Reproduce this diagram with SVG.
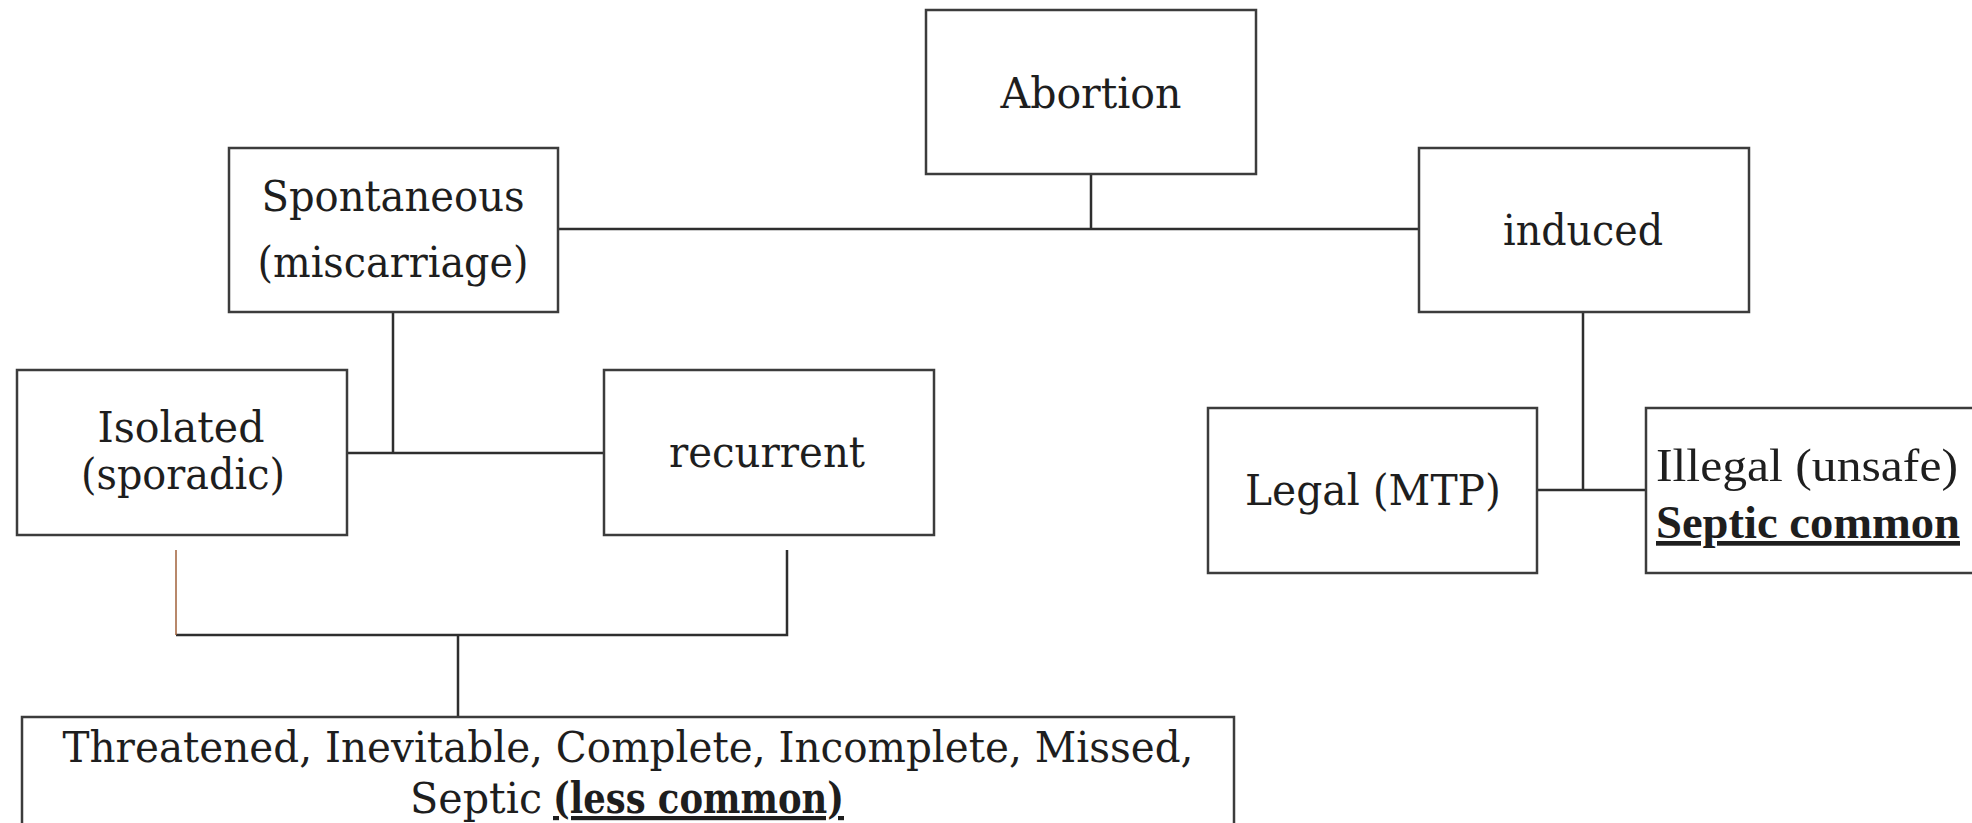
<svg xmlns="http://www.w3.org/2000/svg" width="1972" height="823" viewBox="0 0 1972 823">
<style>
.box{fill:#fff;stroke:#3c3c3c;stroke-width:2.5}
.t{font-family:"DejaVu Serif","Liberation Serif",serif;font-size:42px;fill:#1e1e1e;text-anchor:middle}
.n{font-family:"Liberation Serif","DejaVu Serif",serif;font-size:47px;text-anchor:start}
.b{font-weight:bold;text-decoration:underline}
.c{fill:none;stroke:#2e2e2e;stroke-width:2.5}
</style>
<rect width="1972" height="823" fill="#fff"/>
<g id="connectors">
<path class="c" d="M1091 174V230M558 229H1419M393 312V453M347 453H604M787 550V635H176M458 635V717M1583 312V490M1537 490H1646"/>
<path d="M176 550V635" fill="none" stroke="#a0603a" stroke-width="1.5"/>
</g>
<g id="abortion"><rect class="box" x="926" y="10" width="330" height="164"/><text class="t" x="1091" y="108" textLength="181" lengthAdjust="spacingAndGlyphs">Abortion</text></g>
<g id="spontaneous"><rect class="box" x="229" y="148" width="329" height="164"/><text class="t" x="393" y="211" textLength="263" lengthAdjust="spacingAndGlyphs">Spontaneous</text><text class="t" x="393" y="277" textLength="271" lengthAdjust="spacingAndGlyphs">(miscarriage)</text></g>
<g id="induced"><rect class="box" x="1419" y="148" width="330" height="164"/><text class="t" x="1583" y="245" textLength="160" lengthAdjust="spacingAndGlyphs">induced</text></g>
<g id="isolated"><rect class="box" x="17" y="370" width="330" height="165"/><text class="t" x="181" y="442" textLength="167" lengthAdjust="spacingAndGlyphs">Isolated</text><text class="t" x="183" y="489" textLength="204" lengthAdjust="spacingAndGlyphs">(sporadic)</text></g>
<g id="recurrent"><rect class="box" x="604" y="370" width="330" height="165"/><text class="t" x="767" y="467" textLength="196" lengthAdjust="spacingAndGlyphs">recurrent</text></g>
<g id="legal"><rect class="box" x="1208" y="408" width="329" height="165"/><text class="t" x="1373" y="505" textLength="256" lengthAdjust="spacingAndGlyphs">Legal (MTP)</text></g>
<g id="illegal"><rect class="box" x="1646" y="408" width="340" height="165"/><text class="t n" x="1656" y="481" textLength="302" lengthAdjust="spacingAndGlyphs">Illegal (unsafe)</text><text class="t n b" x="1656" y="538" textLength="304" lengthAdjust="spacingAndGlyphs">Septic common</text></g>
<g id="types"><rect class="box" x="22" y="717" width="1212" height="120"/><text class="t" x="628" y="762" textLength="1131" lengthAdjust="spacingAndGlyphs">Threatened, Inevitable, Complete, Incomplete, Missed,</text><text class="t" x="410" y="813" style="text-anchor:start"><tspan textLength="132" lengthAdjust="spacingAndGlyphs">Septic</tspan> <tspan class="b" x="553" textLength="291" lengthAdjust="spacingAndGlyphs">(less common)</tspan></text></g>
</svg>
